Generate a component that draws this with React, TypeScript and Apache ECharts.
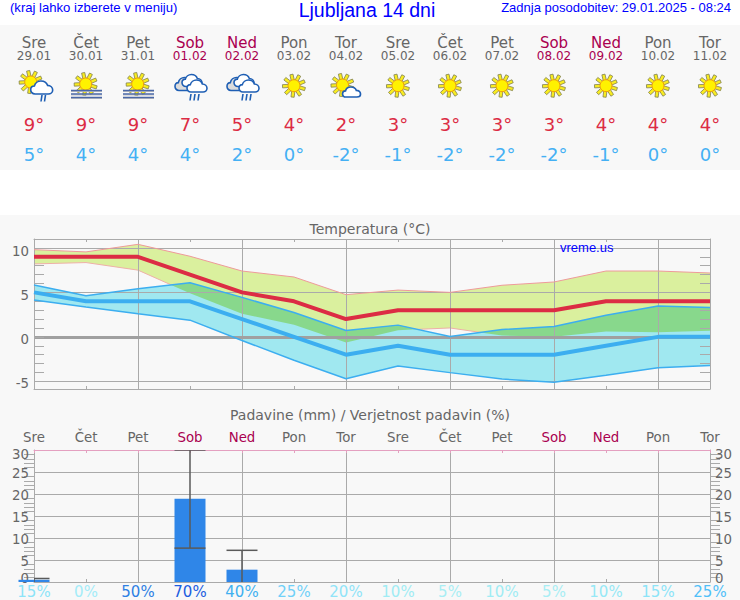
import React, { useEffect, useRef } from "react";
import * as echarts from "echarts";

const dayNames = ["Sre", "Čet", "Pet", "Sob", "Ned", "Pon", "Tor", "Sre", "Čet", "Pet", "Sob", "Ned", "Pon", "Tor"];
const dates = ["29.01", "30.01", "31.01", "01.02", "02.02", "03.02", "04.02", "05.02", "06.02", "07.02", "08.02", "09.02", "10.02", "11.02"];
const icons = ["sunRain", "fog", "fog", "rain", "rain", "sun", "partly", "sun", "sun", "sun", "sun", "sun", "sun", "sun"];
const tempMax = [9, 9, 9, 7, 5, 4, 2, 3, 3, 3, 3, 4, 4, 4];
const tempMin = [5, 4, 4, 4, 2, 0, -2, -1, -2, -2, -2, -1, 0, 0];
const maxBandHigh = [9.8, 9.55, 10.4, 9.06, 7.4, 6.73, 4.74, 5.26, 5.0, 5.8, 6.17, 7.4, 7.4, 7.18];
const maxBandLow = [8.2, 8.35, 7.5, 4.9, 2.6, 1.35, -0.64, 0.75, 1.0, 0.15, 0.0, 0.6, 0.53, 0.7];
const minBandHigh = [5.83, 4.62, 5.41, 6.09, 4.44, 2.74, 0.71, 1.32, 0.04, 0.83, 1.17, 2.44, 3.46, 3.3];
const minBandLow = [4.14, 3.35, 2.6, 1.88, -0.41, -2.63, -4.7, -3.27, -4.02, -4.74, -5.1, -4.32, -3.46, -3.23];
const tempLabelSpots = [-5.2, -0.3, 4.7, 9.6];
const tempTicks = [-5, -4, -3, -2, -1, 0, 1, 2, 3, 4, 5, 6, 7, 8, 9, 10, 11];
const tempGrid = [-5, 5, 10];
const precip = [0.5, 0, 0, 18.9, 2.8, 0, 0, 0, 0, 0, 0, 0, 0, 0];
const precipLow = [0, null, null, 7.7, 0, null, null, null, null, null, null, null, null, null];
const precipHigh = [0.8, null, null, 30, 7.2, null, null, null, null, null, null, null, null, null];
const precipChance = ["15%", "0%", "50%", "70%", "40%", "25%", "20%", "10%", "5%", "10%", "5%", "10%", "15%", "25%"];
const chanceColors = ["#8ce4f8", "#a4ecf8", "#2e80e4", "#1c5ee0", "#40b0f0", "#70d0f8", "#90e4f8", "#a0ecf4", "#a8eef4", "#a0ecf4", "#a8eef4", "#96e8f6", "#8ce4f8", "#50c0f8"];
const precipLabelSpots = [0.9, 4.55, 9.55, 14.55, 19.55, 24.55, 28.9];

const GREY = "#666666";
const WEEKEND = "#aa0050";
const RED = "#dc2c44";
const BLUE = "#3caef0";
const LINE = "#aaaaaa";
const FONT = '"DejaVu Sans"';
const ICON_BLUE = "#1f5fb4";

const dayColor = (i: number) => (dayNames[i] === "Sob" || dayNames[i] === "Ned" ? WEEKEND : GREY);
const colX = (i: number) => 34 + 52 * i;

echarts.graphic.registerShape(
  "cloudShape",
  echarts.graphic.extendPath("M6 18 C2 18 0 15 0 12 C0 9 2 7 5 7 C6 3 10 0 14 0 C19 0 22 3 23 6 C27 6 30 9 30 12.5 C30 16 27 18 24 18 Z", {})
);

const txt = (text: string, x: number, y: number, fill: string, font: string, align = "center") => ({
  type: "text",
  silent: true,
  z: 20,
  style: { text, x, y, fill, font, align, textAlign: align, verticalAlign: "middle", textVerticalAlign: "middle" },
});

function sun(cx: number, cy: number, r: number, out: number): any[] {
  const els: any[] = [];
  for (let k = 0; k < 9; k++) {
    const a = (k / 9) * Math.PI * 2 + 0.3;
    const c = Math.cos(a);
    const s = Math.sin(a);
    const w = 1.6;
    const r0 = r - 1;
    els.push({
      type: "polygon",
      silent: true,
      shape: {
        points: [
          [cx + c * r0 - s * w, cy + s * r0 + c * w],
          [cx + c * out - s * w, cy + s * out + c * w],
          [cx + c * out + s * w, cy + s * out - c * w],
          [cx + c * r0 + s * w, cy + s * r0 - c * w],
        ],
      },
      style: { fill: "#f8ec20", stroke: "#808050", lineWidth: 0.8 },
    });
  }
  els.push({ type: "circle", silent: true, shape: { cx, cy, r }, style: { fill: "#fff200", stroke: "#f09a10", lineWidth: 1 } });
  return els;
}

function cloud(cx: number, cy: number, w: number, h: number, fill: string): any {
  const sx = w / 30;
  const sy = h / 18;
  return {
    type: "cloudShape",
    silent: true,
    x: cx - w / 2,
    y: cy - h / 2,
    scaleX: sx,
    scaleY: sy,
    style: { fill, stroke: ICON_BLUE, lineWidth: 1.6 / Math.min(sx, sy) },
  };
}

function rain(xs: number[], y: number): any[] {
  return xs.map((x) => ({
    type: "line",
    silent: true,
    shape: { x1: x + 1, y1: y, x2: x, y2: y + 6.5 },
    style: { stroke: ICON_BLUE, lineWidth: 1.6 },
  }));
}

function icon(kind: string, cx: number): any[] {
  if (kind === "sun") return sun(cx, 85.7, 6, 11.5);
  if (kind === "partly") return [...sun(cx - 3.5, 85, 6, 11.5), cloud(cx + 5.5, 92, 18, 10, "#ffffff")];
  if (kind === "sunRain")
    return [...sun(cx - 3.3, 82, 6, 11.5), cloud(cx + 7.7, 87.5, 22, 13, "#ffffff"), ...rain([cx + 7, cx + 10.5], 95)];
  if (kind === "rain")
    return [
      cloud(cx - 5, 84, 20, 13, "#dcdcdc"),
      cloud(cx + 2, 80.5, 20, 12, "#ffffff"),
      cloud(cx + 7, 86, 20, 12, "#ffffff"),
      ...rain([cx + 0, cx + 4, cx + 8], 94),
    ];
  const bars = [90.5, 94, 97.5].flatMap((y) => [
    {
      type: "line",
      silent: true,
      shape: { x1: cx - 15, y1: y + 1, x2: cx + 16, y2: y + 1 },
      style: { stroke: "#c0c0c0", lineWidth: 1 },
    },
    {
      type: "line",
      silent: true,
      shape: { x1: cx - 15, y1: y, x2: cx + 16, y2: y },
      style: { stroke: "#4a68a8", lineWidth: 1.5 },
    },
  ]);
  return [...sun(cx - 0.3, 84, 6, 11.5), ...bars];
}

function band(low: number[], high: number[], color: string, z: number) {
  return {
    type: "custom",
    xAxisIndex: 0,
    yAxisIndex: 0,
    z,
    clip: true,
    silent: true,
    data: low.map((v, i) => [i, v, high[i]]),
    encode: { x: 0, y: [1, 2] },
    renderItem: (params: any, api: any) => {
      if (params.dataIndex !== 0) return null;
      const top = high.map((v, i) => api.coord([i, v]));
      const bottom = low.map((v, i) => api.coord([i, v])).reverse();
      return { type: "polygon", shape: { points: [...top, ...bottom] }, style: { fill: color } };
    },
  };
}

function overlap(color: string, z: number) {
  const pairs = [
    [maxBandHigh, minBandHigh],
    [maxBandLow, minBandLow],
    [maxBandHigh, minBandLow],
    [maxBandLow, minBandHigh],
  ];
  return {
    type: "custom",
    xAxisIndex: 0,
    yAxisIndex: 0,
    z,
    clip: true,
    silent: true,
    data: maxBandLow.map((v, i) => [i, v, maxBandHigh[i]]),
    encode: { x: 0, y: [1, 2] },
    renderItem: (params: any, api: any) => {
      if (params.dataIndex !== 0) return null;
      const children: any[] = [];
      const at = (arr: number[], i: number, t: number) => arr[i] + (arr[i + 1] - arr[i]) * t;
      const up = (i: number, t: number) => Math.min(at(maxBandHigh, i, t), at(minBandHigh, i, t));
      const dn = (i: number, t: number) => Math.max(at(maxBandLow, i, t), at(minBandLow, i, t));
      for (let i = 0; i < maxBandLow.length - 1; i++) {
        const x0 = api.coord([i, 0])[0];
        const x1 = api.coord([i + 1, 0])[0];
        const pt = (t: number, v: number) => [x0 + (x1 - x0) * t, api.coord([i, v])[1]];
        const ts = [0, 1];
        pairs.forEach(([f, g]) => {
          const d0 = f[i] - g[i];
          const d1 = f[i + 1] - g[i + 1];
          if (d0 * d1 < 0) ts.push(d0 / (d0 - d1));
        });
        ts.sort((a, b) => a - b);
        for (let k = 0; k < ts.length - 1; k++) {
          const t0 = ts[k];
          const t1 = ts[k + 1];
          const m = (t0 + t1) / 2;
          if (up(i, m) <= dn(i, m)) continue;
          children.push({
            type: "polygon",
            shape: {
              points: [pt(t0, up(i, t0)), pt(t1, up(i, t1)), pt(t1, dn(i, t1)), pt(t0, dn(i, t0))],
            },
            style: { fill: color },
          });
        }
      }
      return { type: "group", children };
    },
  };
}

const lineSeries = (data: number[], color: string, width: number, z: number, extra: any = {}) => ({
  type: "line",
  xAxisIndex: 0,
  yAxisIndex: 0,
  data,
  z,
  silent: true,
  symbol: "none",
  lineStyle: { color, width },
  ...extra,
});

const baseXAxis = (gridIndex: number, position: string, color: string, z: number) => ({
  type: "category",
  gridIndex,
  position,
  boundaryGap: false,
  data: dayNames,
  z,
  axisLine: { show: true, onZero: false, lineStyle: { color, width: 1 } },
  axisTick: { show: true, inside: true, length: 3, interval: 0, lineStyle: { color, width: 1 } },
  axisLabel: { show: false },
  splitLine: { show: false },
});

const gridSplit = {
  show: true,
  interval: (i: number) => i % 2 === 0,
  lineStyle: { color: LINE, width: 1 },
};

function buildOption(): any {
  const graphics: any[] = [
    txt("(kraj lahko izberete v meniju)", 10, 7, "#0000ff", '13.1px "Liberation Sans"', "left"),
    txt("Ljubljana 14 dni", 367, 10, "#0000ff", '19.5px "Liberation Sans"'),
    txt("Zadnja posodobitev: 29.01.2025 - 08:24", 731, 7, "#0000ff", '13px "Liberation Sans"', "right"),
    txt("vreme.us", 560, 247.5, "#0000ff", '13px "Liberation Sans"', "left"),
  ];
  dayNames.forEach((d, i) => {
    const x = colX(i);
    graphics.push(txt(d, x, 43, dayColor(i), `15px ${FONT}`));
    graphics.push(txt(dates[i], x, 56, dayColor(i), `12px ${FONT}`));
    graphics.push(...icon(icons[i], x));
    graphics.push(txt(`${tempMax[i]}°`, x, 124, RED, `18px ${FONT}`));
    graphics.push(txt(`${tempMin[i]}°`, x, 154, "#44b0f4", `18px ${FONT}`));
  });

  const hLine = (v: number) => ({ yAxis: v, lineStyle: { color: LINE, width: 1, type: "solid" } });

  return {
    animation: false,
    backgroundColor: "transparent",
    title: [
      {
        text: "Temperatura (°C)",
        left: 365,
        top: 217,
        textAlign: "center",
        textStyle: { fontFamily: FONT, fontSize: 14, fontWeight: "normal", color: GREY },
      },
      {
        text: "Padavine (mm) / Verjetnost padavin (%)",
        left: 365,
        top: 403,
        textAlign: "center",
        textStyle: { fontFamily: FONT, fontSize: 14, fontWeight: "normal", color: GREY },
      },
    ],
    graphic: { elements: graphics },
    grid: [
      { left: 34, width: 676, top: 239, height: 150 },
      { left: 34, width: 676, top: 450, height: 132 },
    ],
    xAxis: [
      { ...baseXAxis(0, "bottom", LINE, 2), splitLine: gridSplit },
      baseXAxis(0, "top", LINE, 2),
      {
        ...baseXAxis(1, "bottom", LINE, 2),
        data: precipChance,
        splitLine: gridSplit,
        axisLabel: {
          show: true,
          interval: 0,
          margin: 2,
          fontFamily: FONT,
          fontSize: 15,
          color: (_: any, i: number) => chanceColors[i],
        },
      },
      {
        ...baseXAxis(1, "top", "#e4a0c0", 2),
        axisLabel: {
          show: true,
          interval: 0,
          margin: 6,
          fontFamily: FONT,
          fontSize: 13.33,
          color: (_: any, i: number) => dayColor(i),
        },
      },
    ],
    yAxis: [
      {
        type: "value",
        gridIndex: 0,
        position: "left",
        min: -5.86,
        max: 11,
        z: 2,
        axisLine: { show: true, lineStyle: { color: LINE } },
        axisTick: { show: true, inside: true, length: 10, customValues: tempTicks, lineStyle: { color: LINE } },
        axisLabel: {
          show: true,
          margin: 5,
          fontFamily: FONT,
          fontSize: 13.33,
          color: GREY,
          customValues: tempLabelSpots,
          formatter: (v: number) => String(Math.round(v / 5) * 5),
        },
        splitLine: { show: false },
      },
      {
        type: "value",
        gridIndex: 0,
        position: "right",
        min: -5.86,
        max: 11,
        z: 2,
        axisLine: { show: true, lineStyle: { color: LINE } },
        axisTick: { show: true, inside: true, length: 10, customValues: tempTicks, lineStyle: { color: LINE } },
        axisLabel: { show: false },
        splitLine: { show: false },
      },
      ...["left", "right"].map((position) => ({
        type: "value",
        gridIndex: 1,
        position,
        min: 0,
        max: 30,
        interval: 5,
        z: 2,
        axisLine: { show: true, lineStyle: { color: LINE } },
        axisTick: { show: false },
        minorTick: { show: true, splitNumber: 5, length: 10, lineStyle: { color: LINE } },
        axisLabel: {
          show: true,
          margin: 5,
          fontFamily: FONT,
          fontSize: 13.33,
          color: GREY,
          customValues: precipLabelSpots,
          formatter: (v: number) => String(Math.round(v / 5) * 5),
        },
        splitLine: { show: position === "left", lineStyle: { color: LINE, width: 1 } },
      })),
    ],
    series: [
      band(maxBandLow, maxBandHigh, "#daf09e", 1),
      lineSeries(maxBandLow, "#eeb0a8", 1, 1.05),
      band(minBandLow, minBandHigh, "#a0e8f0", 1.1),
      overlap("#88d88c", 1.2),
      lineSeries(maxBandHigh, "#ee9a9a", 1, 3, {
        markLine: {
          silent: true,
          z: 2,
          symbol: "none",
          label: { show: false },
          data: [
            ...tempGrid.map(hLine),
            { yAxis: 0, lineStyle: { color: "#a0a0a0", width: 3, type: "solid" } },
          ],
        },
      }),
      lineSeries(minBandHigh, BLUE, 1.5, 3),
      lineSeries(minBandLow, BLUE, 1.5, 3),
      lineSeries(tempMax, RED, 4, 4),
      lineSeries(tempMin, BLUE, 4, 4),
      {
        type: "bar",
        xAxisIndex: 2,
        yAxisIndex: 2,
        data: precip,
        barWidth: 31,
        silent: true,
        z: 3,
        itemStyle: { color: "#2f86e8" },
      },
      {
        type: "custom",
        xAxisIndex: 2,
        yAxisIndex: 2,
        z: 4,
        clip: true,
        silent: true,
        data: precipHigh.map((h, i) => [i, precipLow[i], h]),
        encode: { x: 0, y: [1, 2] },
        renderItem: (params: any, api: any) => {
          const i = params.dataIndex;
          const hi = precipHigh[i];
          const lo = precipLow[i];
          if (hi == null || lo == null) return null;
          const a = api.coord([i, hi]);
          const b = api.coord([i, lo]);
          const style = { stroke: "#5a5a5a", lineWidth: 1.5 };
          const children: any[] = [
            { type: "line", shape: { x1: a[0], y1: a[1], x2: b[0], y2: b[1] }, style },
            { type: "line", shape: { x1: a[0] - 15.5, y1: a[1], x2: a[0] + 15.5, y2: a[1] }, style },
          ];
          if (lo > 0) children.push({ type: "line", shape: { x1: b[0] - 15.5, y1: b[1], x2: b[0] + 15.5, y2: b[1] }, style });
          return { type: "group", children };
        },
      },
    ],
  };
}

export default function App() {
  const ref = useRef<HTMLDivElement>(null);
  useEffect(() => {
    const chart = echarts.init(ref.current as HTMLDivElement, undefined, { renderer: "svg" });
    chart.setOption(buildOption());
    return () => chart.dispose();
  }, []);
  const panel = (top: number, height: number) => (
    <div style={{ position: "absolute", left: 0, top, width: 740, height, background: "#f8f8f8" }} />
  );
  return (
    <div style={{ position: "fixed", left: 0, top: 0, width: 740, height: 600, background: "#ffffff", overflow: "hidden" }}>
      {panel(25, 145)}
      {panel(215, 385)}
      <div ref={ref} style={{ position: "absolute", left: 0, top: 0, width: 740, height: 600 }} />
    </div>
  );
}
